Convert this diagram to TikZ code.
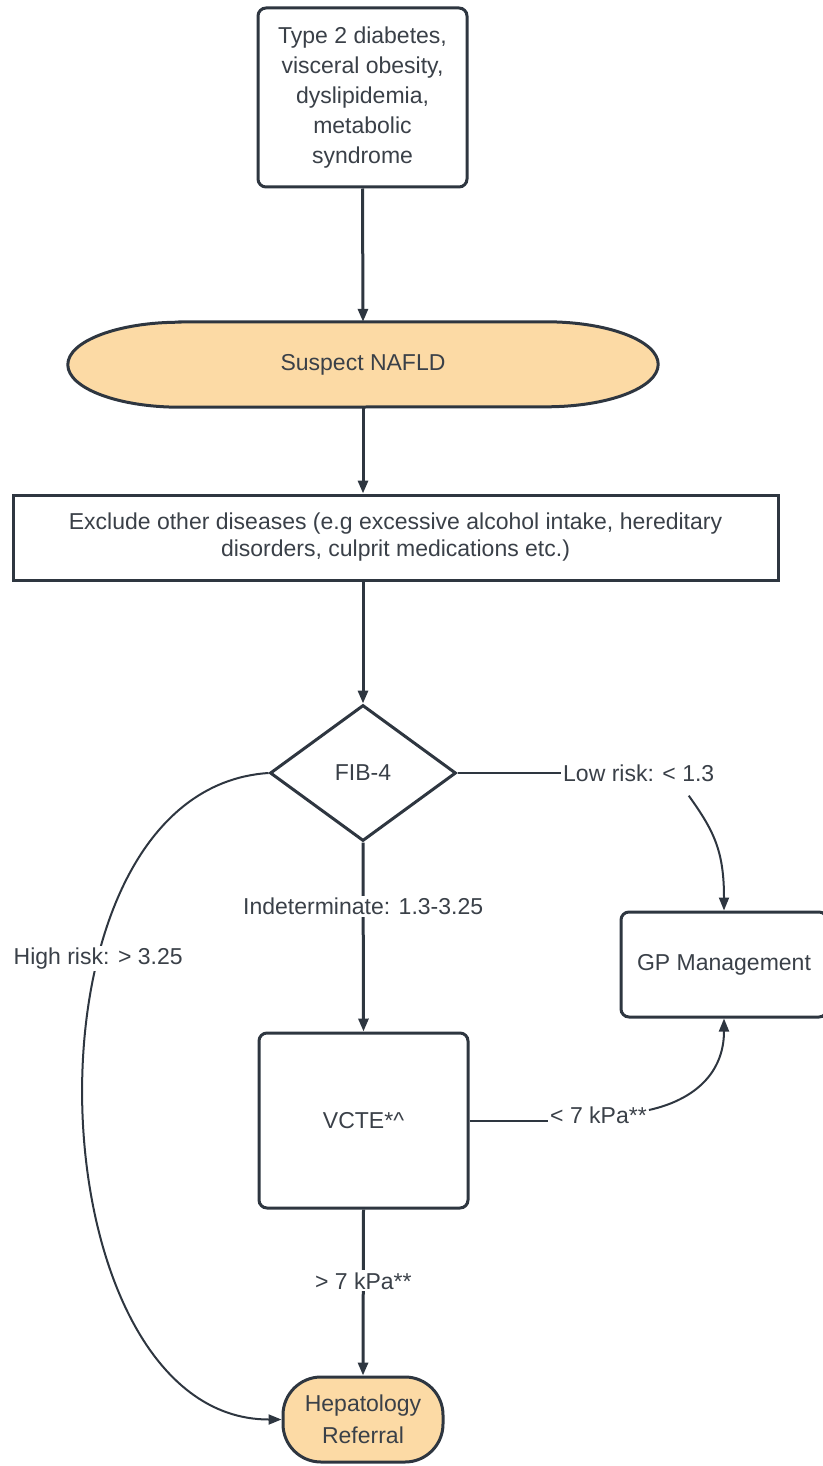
\documentclass[tikz,border=0pt]{standalone}
\usepackage{fontspec}
\setmainfont{Liberation Sans}
\usetikzlibrary{shapes.geometric,arrows.meta,backgrounds}
\definecolor{ink}{RGB}{58,64,72}
\definecolor{edge}{RGB}{46,54,64}
\definecolor{peach}{RGB}{252,218,165}

\begin{document}
\begin{tikzpicture}[x=1pt, y=1pt,
		font=\fontsize{23}{30}\selectfont, text=ink,
		>={Triangle[length=13pt,width=10pt]},
		bx/.style={rectangle, draw=edge, line width=3pt, fill=white, rounded corners=8pt, inner sep=0pt, align=center},
		dm/.style={diamond, draw=edge, line width=3pt, fill=white, inner sep=0pt, minimum width=186, minimum height=136},
		lb/.style={fill=white, inner sep=2pt},
		ar/.style={->, draw=edge, line width=3pt},
		cv/.style={->, draw=edge, line width=2pt},
		ln/.style={draw=edge, line width=2pt}
		]
		\useasboundingbox (0,0) rectangle (822,-1466);
		
		%Nodes
		\node[bx, minimum width=209, minimum height=179]	(risk)	at (362.5,-97.5)	{Type 2 diabetes,\\visceral obesity,\\dyslipidemia,\\metabolic\\syndrome};
		\node[inner sep=0pt, minimum width=590, minimum height=85]	(nafld)	at (363,-364.5)	{Suspect NAFLD};
		\node[bx, rounded corners=0pt, minimum width=765, minimum height=85, font=\fontsize{23}{27}\selectfont]	(excl)	at (395.5,-537.5)	{Exclude other diseases (e.g excessive alcohol intake, hereditary\\disorders, culprit medications etc.)};
		\node[dm]	(fib)	at (363,-773)	{FIB-4};
		\node[bx, minimum width=206, minimum height=105]	(gp)	at (724,-964.5)	{GP Management};
		\node[bx, minimum width=209, minimum height=175]	(vcte)	at (363.5,-1120.5)	{VCTE*\textasciicircum};
		\node[bx, fill=peach, rounded corners=38pt, minimum width=160, minimum height=85, font=\fontsize{23}{32}\selectfont]	(hep)	at (363,-1419.5)	{Hepatology\\Referral};
		\node[lb, anchor=west]	(low)	at (561,-773)	{Low risk: < 1.3};
		\node[lb, anchor=west]	(kpalo)	at (548,-1115)	{< 7 kPa**};
		
		\begin{scope}[on background layer]
			\draw[draw=edge, fill=peach, line width=3pt] ([xshift=112]nafld.north west) -- ([xshift=-112]nafld.north east)
				arc[start angle=90, end angle=-90, x radius=112, y radius=42.5] -- ([xshift=112]nafld.south west)
				arc[start angle=270, end angle=90, x radius=112, y radius=42.5] -- cycle;
		\end{scope}
		
		%Lines
		\draw[ar] (risk.south) -- (nafld.north);
		\draw[ar] (nafld.south) -- (nafld.south |- excl.north);
		\draw[ar] (nafld.south |- excl.south) -- (fib.north);
		\draw[ar] (fib.south) to node[lb, pos=0.34] (indet) {Indeterminate: 1.3-3.25} (vcte.north);
		\draw[ar] (vcte.south) to node[lb, pos=0.43] (kpahi) {> 7 kPa**} (hep.north);
		
		\draw[cv] (fib.west) .. controls +(-260,-17) and +(-250,0) .. (hep.west) node[lb, pos=0.345] (high) {High risk: > 3.25};
		\draw[ln] (fib.east) -- (low.west);
		\draw[cv] ([xshift=50,yshift=-12]low.south) .. controls +(25,-35) and +(0,60) .. (gp.north);
		\draw[ln] (vcte.east) -- (vcte.east -| kpalo.west);
		\draw[cv] ([yshift=5]kpalo.east) .. controls +(45,10) and +(0,-55) .. (gp.south);
		
	\end{tikzpicture}
\end{document}
